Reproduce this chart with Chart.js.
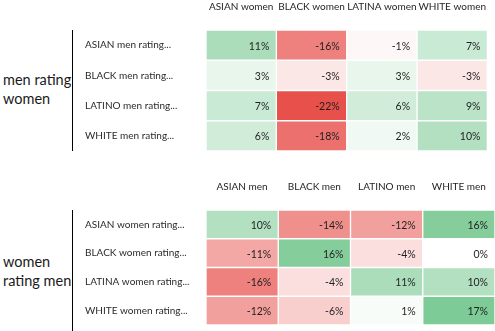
<!DOCTYPE html>
<html>
<head>
<meta charset="utf-8">
<script src="https://cdn.jsdelivr.net/npm/chart.js@4"></script>
<style>
  html, body { margin: 0; padding: 0; background: #fff; }
  body { width: 495px; height: 331px; position: relative; overflow: hidden; font-family: Lato, "Open Sans", sans-serif; }
  .panel { position: absolute; left: 0; width: 495px; }
  .title { position: absolute; left: 3px; font-size: 14.5px; line-height: 19px; color: #1a1a1a; }
  .rule { position: absolute; left: 72px; width: 0; border-left: 1px solid #000; }
</style>
</head>
<body>
<div class="title" style="top:70px">men rating<br>women</div>
<div class="rule" style="top:30px;height:121px"></div>
<div class="title" style="top:252px">women<br>rating men</div>
<div class="rule" style="top:210px;height:121px"></div>
<div class="panel" style="top:0;height:160px"><canvas id="top"></canvas></div>
<div class="panel" style="top:180px;height:151px"><canvas id="bottom"></canvas></div>
<script>
// Men rating women: rows = raters, columns = rated group (percent deviation)
const menRaters = ['ASIAN men rating...', 'BLACK men rating...', 'LATINO men rating...', 'WHITE men rating...'];
const womenGroups = ['ASIAN women', 'BLACK women', 'LATINA women', 'WHITE women'];
const asianMenRating = [11, -16, -1, 7];
const blackMenRating = [3, -3, 3, -3];
const latinoMenRating = [7, -22, 6, 9];
const whiteMenRating = [6, -18, 2, 10];

// Women rating men
const womenRaters = ['ASIAN women rating...', 'BLACK women rating...', 'LATINA women rating...', 'WHITE women rating...'];
const menGroups = ['ASIAN men', 'BLACK men', 'LATINO men', 'WHITE men'];
const asianWomenRating = [10, -14, -12, 16];
const blackWomenRating = [-11, 16, -4, 0];
const latinaWomenRating = [-16, -4, 11, 10];
const whiteWomenRating = [-12, -6, 1, 17];

// Three-colour scale: red for the lowest value, white at zero, green for the highest
const SCALE_MIN = -22, SCALE_MAX = 17;
const RED = [232, 80, 76], GREEN = [125, 203, 150];
function cellColor(v) {
  const target = v < 0 ? RED : GREEN;
  const t = v < 0 ? v / SCALE_MIN : v / SCALE_MAX;
  const c = target.map(ch => Math.round(255 + (ch - 255) * t));
  return `rgb(${c[0]},${c[1]},${c[2]})`;
}

const FONT = 'Lato, "Open Sans", sans-serif';

// Writes each cell's percentage at the right edge of its block
const cellLabels = {
  id: 'cellLabels',
  afterDatasetsDraw(chart) {
    const ctx = chart.ctx;
    ctx.save();
    ctx.font = '10.5px ' + FONT;
    ctx.fillStyle = '#1f1f1f';
    ctx.textAlign = 'right';
    ctx.textBaseline = 'middle';
    chart.data.datasets.forEach((ds, di) => {
      chart.getDatasetMeta(di).data.forEach((bar, ri) => {
        ctx.fillText(ds.pct[ri] + '%', bar.x - 7, bar.y + 1);
      });
    });
    ctx.restore();
  }
};

function buildGrid(canvasId, raters, groups, matrix, bottomPad) {
  // one dataset per column; each row contributes one unit-wide block
  const datasets = groups.map((g, ci) => {
    const pct = matrix.map(row => row[ci]);
    return {
      label: g,
      pct,
      data: pct.map(() => 1),
      backgroundColor: pct.map(cellColor),
      borderColor: '#ffffff',
      borderWidth: 1,
      borderSkipped: false,
      barPercentage: 1,
      categoryPercentage: 1
    };
  });
  return new Chart(document.getElementById(canvasId), {
    type: 'bar',
    data: { labels: raters, datasets },
    plugins: [cellLabels],
    options: {
      indexAxis: 'y',
      responsive: true,
      maintainAspectRatio: false,
      animation: false,
      layout: { padding: { left: 85, right: 0, top: 0, bottom: bottomPad } },
      plugins: { legend: { display: false }, tooltip: { enabled: false } },
      scales: {
        x: {
          type: 'linear',
          position: 'top',
          stacked: true,
          min: 0,
          max: groups.length,
          grid: { display: false },
          border: { display: false },
          afterBuildTicks: s => { s.ticks = groups.map((g, i) => ({ value: i + 0.5 })); },
          afterFit: s => { s.height = 30; },
          ticks: {
            autoSkip: false,
            maxRotation: 0,
            padding: 9,
            color: '#1f1f1f',
            font: { family: FONT, size: 10 },
            callback: (v, i) => groups[i]
          }
        },
        y: {
          type: 'category',
          stacked: true,
          grid: { display: false },
          border: { display: false },
          afterFit: s => { s.width = 121; },
          ticks: {
            crossAlign: 'far',
            padding: 0,
            color: '#2a2a2a',
            font: { family: FONT, size: 10 }
          }
        }
      }
    }
  });
}

buildGrid('top', menRaters, womenGroups,
  [asianMenRating, blackMenRating, latinoMenRating, whiteMenRating], 9);
buildGrid('bottom', womenRaters, menGroups,
  [asianWomenRating, blackWomenRating, latinaWomenRating, whiteWomenRating], 0);
</script>
</body>
</html>
